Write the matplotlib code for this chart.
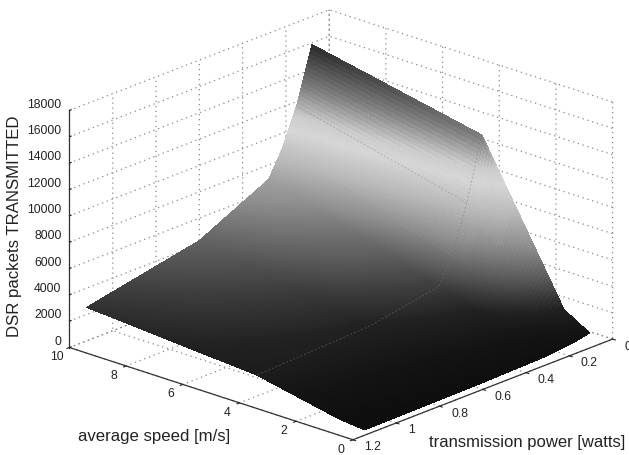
import matplotlib
matplotlib.use("Agg")
import matplotlib.pyplot as plt
import numpy as np
from matplotlib.colors import LinearSegmentedColormap

plt.rcParams["font.family"] = ["Liberation Sans", "DejaVu Sans"]

# values
power = [0.08, 0.15, 0.22, 0.28, 0.6, 1.12]
speed = [0.2, 1.1, 4, 10]
packets_s02 = [830, 600, 450, 350, 200, 100]
packets_s11 = [1970, 1300, 1000, 800, 500, 300]
packets_s4 = [13200, 8500, 4820, 2960, 2000, 1600]
packets_s10 = [15870, 11660, 8730, 6900, 4290, 2540]

power_ticks = [0, 0.2, 0.4, 0.6, 0.8, 1, 1.2]
speed_ticks = [0, 2, 4, 6, 8, 10]
packet_ticks = list(range(0, 18001, 2000))

# grey version of the jet colours, by packet count
level_z = [0, 1000, 2000, 4000, 6000, 8000, 10000, 11000, 13000, 16000, 18000]
level_grey = [0.05, 0.08, 0.13, 0.36, 0.56, 0.72, 0.84, 0.8, 0.5, 0.15, 0.1]

table = np.array([packets_s02, packets_s11, packets_s4, packets_s10], dtype=float)

# fine mesh only so that the colour runs smoothly between the table values
fine_p = np.linspace(power[0], power[-1], 220)
fine_s = np.linspace(speed[0], speed[-1], 120)
by_power = np.array([np.interp(fine_p, power, row) for row in table])
Z = np.array([np.interp(fine_s, speed, col) for col in by_power.T]).T
X, Y = np.meshgrid(fine_p, fine_s)

stops = [(z / 18000, (g, g, g)) for z, g in zip(level_z, level_grey)]
cmap = LinearSegmentedColormap.from_list("jet_grey", stops, N=512)

fig = plt.figure(figsize=(6.29, 4.55), dpi=100)
ax = fig.add_axes([20.4 / 629, -3.4 / 455, 1, 1], projection="3d")
ax.set_proj_type("ortho")
ax.view_init(elev=20.8, azim=-137.5)
ax.set_box_aspect((385, 385, 254), zoom=1.28)

surf = ax.plot_surface(X, Y, Z, cmap=cmap, vmin=0, vmax=18000, rcount=120, ccount=220,
                       linewidth=0, antialiased=False, shade=False)
surf.set_clip_on(False)

# faint creases that show through the surface
crease_a, = ax.plot(power, [4] * len(power), packets_s4, color="#777777", lw=0.7,
                    ls=(0, (2, 2)), alpha=0.45, zorder=5)
crease_b, = ax.plot([power[1]] * 2, speed[2:], table[2:, 1], color="#888888", lw=0.7,
                    ls=(0, (2, 2)), alpha=0.45, zorder=5)
crease_a.set_clip_on(False)
crease_b.set_clip_on(False)

ax.set_xlim(1.2, 0)
ax.set_ylim(0, 10)
ax.set_zlim(0, 18000)
ax.set_xticks(power_ticks)
ax.set_xticklabels(["0", "0.2", "0.4", "0.6", "0.8", "1", "1.2"])
ax.set_yticks(speed_ticks)
ax.set_zticks(packet_ticks)

dots = (0, (1, 3))
for axis in (ax.xaxis, ax.yaxis, ax.zaxis):
    axis.set_pane_color((1, 1, 1, 0))
    axis.pane.set_edgecolor("#888888")
    axis.pane.set_linestyle(dots)
    axis.line.set_color("#333333")
    axis.line.set_linewidth(0.9)
    axis._axinfo["grid"].update(color="#888888", linestyle=dots, linewidth=0.9)
ax.xaxis._axinfo["tick"].update(inward_factor=0.12, outward_factor=0)
ax.yaxis._axinfo["tick"].update(inward_factor=0.12, outward_factor=0)
ax.zaxis._axinfo["tick"].update(inward_factor=0, outward_factor=0.08)

ax.tick_params(labelsize=8.8, colors="#222222")
ax.tick_params(axis="x", pad=-1)
ax.tick_params(axis="y", pad=0)
ax.tick_params(axis="z", pad=-5.5)
for label in ax.get_xticklabels():
    label.set_ha("left")
    label.set_va("bottom")
for label in ax.get_yticklabels():
    label.set_va("bottom")
for label in ax.get_zticklabels():
    label.set_ha("right")
    label.set_va("bottom")

fig.text(78 / 629, 1 - 437 / 455, "average speed [m/s]", fontsize=12.1, color="#222222", va="center")
fig.text(429 / 629, 1 - 442 / 455, "transmission power [watts]", fontsize=12, color="#222222", va="center")
fig.text(15 / 629, 1 - 226 / 455, "DSR packets TRANSMITTED", fontsize=12.1, color="#222222",
         rotation=90, ha="center", va="center")

fig.savefig("out.png", dpi=100)
